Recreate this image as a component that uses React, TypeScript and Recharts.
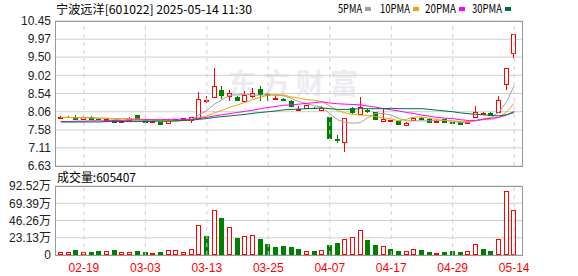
import { ComposedChart, Bar, Line, XAxis, YAxis, CartesianGrid, ReferenceLine } from 'recharts'

const dates = [
  '02-14', '02-17', '02-18', '02-19', '02-20', '02-21', '02-24', '02-25', '02-26', '02-27',
  '02-28', '03-03', '03-04', '03-05', '03-06', '03-07', '03-10', '03-11', '03-12', '03-13',
  '03-14', '03-17', '03-18', '03-19', '03-20', '03-21', '03-24', '03-25', '03-26', '03-27',
  '03-28', '03-31', '04-01', '04-02', '04-03', '04-07', '04-08', '04-09', '04-10', '04-11',
  '04-14', '04-15', '04-16', '04-17', '04-18', '04-21', '04-22', '04-23', '04-24', '04-25',
  '04-28', '04-29', '04-30', '05-06', '05-07', '05-08', '05-09', '05-12', '05-13', '05-14',
]

const open = [
  7.90, 7.91, 7.92, 7.87, 7.92, 7.88, 7.84, 7.84, 7.78, 7.85,
  7.97, 7.84, 7.79, 7.79, 7.76, 7.85, 7.87, 7.84, 7.89, 8.34,
  8.46, 8.64, 8.48, 8.44, 8.33, 8.48, 8.66, 8.52, 8.40, 8.39,
  8.35, 8.11, 8.17, 8.17, 8.10, 7.92, 7.33, 7.26, 8.17, 7.99,
  8.10, 8.04, 7.81, 7.82, 7.81, 7.72, 7.84, 7.89, 7.88, 7.80,
  7.86, 7.78, 7.79, 7.75, 7.91, 8.01, 8.03, 8.06, 8.78, 9.60,
]
const high = [
  7.94, 7.96, 7.98, 7.95, 7.94, 7.90, 7.89, 7.85, 7.83, 7.91,
  7.98, 7.86, 7.82, 7.80, 7.86, 7.88, 7.90, 7.93, 8.58, 8.48,
  9.21, 8.73, 8.62, 8.48, 8.60, 8.68, 8.73, 8.55, 8.51, 8.41,
  8.36, 8.20, 8.25, 8.19, 8.20, 7.93, 7.45, 7.90, 8.19, 8.45,
  8.12, 8.06, 8.13, 7.85, 7.82, 7.78, 7.91, 7.91, 7.89, 7.83,
  7.87, 7.79, 7.80, 7.79, 8.21, 8.04, 8.04, 8.47, 9.20, 10.12,
]
const low = [
  7.89, 7.90, 7.85, 7.86, 7.87, 7.84, 7.83, 7.76, 7.77, 7.82,
  7.87, 7.77, 7.78, 7.71, 7.73, 7.83, 7.86, 7.76, 7.88, 8.29,
  8.42, 8.39, 8.33, 8.35, 8.31, 8.42, 8.33, 8.33, 8.39, 8.35,
  8.20, 8.07, 8.15, 8.13, 8.09, 7.36, 7.23, 6.99, 7.99, 7.98,
  8.03, 7.85, 7.80, 7.80, 7.70, 7.71, 7.83, 7.86, 7.78, 7.78,
  7.78, 7.75, 7.72, 7.74, 7.90, 8.00, 7.96, 8.05, 8.62, 9.48,
]
const close = [
  7.92, 7.93, 7.86, 7.93, 7.88, 7.86, 7.87, 7.78, 7.82, 7.90,
  7.88, 7.78, 7.81, 7.73, 7.84, 7.87, 7.89, 7.92, 8.39, 8.36,
  8.73, 8.49, 8.55, 8.37, 8.51, 8.55, 8.54, 8.51, 8.41, 8.38,
  8.22, 8.12, 8.23, 8.16, 8.17, 7.38, 7.31, 7.89, 8.06, 8.19,
  8.08, 7.86, 7.88, 7.83, 7.74, 7.77, 7.90, 7.88, 7.79, 7.81,
  7.79, 7.77, 7.73, 7.78, 8.05, 8.02, 7.98, 8.36, 9.20, 10.12,
]

// volume in 万 shares
const volume = [
  3.8, 3.8, 6.5, 3.5, 4.0, 5.2, 4.8, 6.6, 3.5, 3.5,
  5.2, 4.0, 2.5, 4.0, 6.2, 6.3, 3.5, 7.5, 40.0, 25.2,
  60.0, 49.8, 37.2, 22.7, 25.2, 26.6, 21.2, 14.4, 10.4, 11.7,
  10.8, 7.7, 5.8, 5.0, 6.1, 13.1, 16.0, 22.1, 24.5, 33.2,
  19.8, 13.1, 12.5, 7.6, 5.0, 4.8, 8.6, 6.3, 3.6, 3.2,
  3.8, 4.9, 3.6, 4.9, 15.3, 7.7, 5.0, 20.8, 85.3, 60.54,
]

const ma5 = [
  7.91, 7.91, 7.90, 7.91, 7.90, 7.89, 7.88, 7.86, 7.84, 7.85,
  7.85, 7.83, 7.84, 7.82, 7.81, 7.81, 7.83, 7.85, 7.98, 8.09,
  8.26, 8.38, 8.50, 8.50, 8.53, 8.49, 8.50, 8.50, 8.50, 8.48,
  8.41, 8.33, 8.27, 8.22, 8.18, 8.01, 7.85, 7.78, 7.76, 7.77,
  7.91, 8.02, 8.01, 7.97, 7.88, 7.82, 7.82, 7.82, 7.82, 7.83,
  7.83, 7.81, 7.78, 7.78, 7.82, 7.87, 7.91, 8.04, 8.32, 8.74,
]
const ma10 = [
  7.91, 7.91, 7.90, 7.90, 7.90, 7.89, 7.89, 7.88, 7.88, 7.88,
  7.87, 7.86, 7.85, 7.83, 7.83, 7.83, 7.83, 7.84, 7.90, 7.95,
  8.03, 8.10, 8.18, 8.24, 8.31, 8.38, 8.44, 8.50, 8.50, 8.50,
  8.45, 8.42, 8.38, 8.36, 8.33, 8.21, 8.09, 8.03, 7.99, 7.97,
  7.96, 7.93, 7.90, 7.87, 7.82, 7.86, 7.92, 7.92, 7.89, 7.85,
  7.83, 7.82, 7.80, 7.80, 7.83, 7.85, 7.86, 7.91, 8.05, 8.28,
]
const ma20 = [
  7.80, 7.80, 7.81, 7.81, 7.82, 7.82, 7.82, 7.83, 7.83, 7.84,
  7.84, 7.85, 7.85, 7.85, 7.86, 7.86, 7.86, 7.86, 7.89, 7.91,
  7.95, 7.98, 8.01, 8.04, 8.07, 8.10, 8.14, 8.17, 8.20, 8.23,
  8.24, 8.26, 8.28, 8.30, 8.32, 8.29, 8.27, 8.26, 8.25, 8.24,
  8.21, 8.18, 8.14, 8.11, 8.08, 8.04, 8.01, 7.97, 7.94, 7.91,
  7.89, 7.88, 7.85, 7.83, 7.83, 7.86, 7.89, 7.91, 7.97, 8.07,
]
const ma30 = [
  7.79, 7.79, 7.79, 7.79, 7.79, 7.79, 7.80, 7.80, 7.80, 7.80,
  7.80, 7.80, 7.81, 7.81, 7.81, 7.82, 7.83, 7.84, 7.86, 7.88,
  7.91, 7.93, 7.95, 7.97, 7.99, 8.02, 8.04, 8.06, 8.08, 8.11,
  8.12, 8.13, 8.14, 8.15, 8.16, 8.14, 8.12, 8.12, 8.13, 8.14,
  8.14, 8.14, 8.14, 8.15, 8.14, 8.14, 8.14, 8.14, 8.12, 8.10,
  8.08, 8.06, 8.03, 8.01, 7.99, 7.98, 7.96, 7.95, 7.98, 8.04,
]

const labelDates = ['02-19', '03-03', '03-13', '03-25', '04-07', '04-17', '04-29', '05-14']
const priceTicks = [6.63, 7.11, 7.58, 8.06, 8.54, 9.02, 9.5, 9.97, 10.45]
const volTicks = [0, 23.13, 46.26, 69.39, 92.52]

const RED = '#ff0000'
const GREEN = '#008000'
const maLines = [
  { key: 'ma5', label: '5PMA', color: '#a0a0a0' },
  { key: 'ma10', label: '10PMA', color: '#f0a30a' },
  { key: 'ma20', label: '20PMA', color: '#ff00ff' },
  { key: 'ma30', label: '30PMA', color: '#00703a' },
]

const data = dates.map((date, i) => ({
  date,
  open: open[i],
  high: high[i],
  low: low[i],
  close: close[i],
  vol: volume[i],
  volUp: i === 0 ? close[i] >= open[i] : close[i] >= close[i - 1],
  ma5: ma5[i],
  ma10: ma10[i],
  ma20: ma20[i],
  ma30: ma30[i],
}))

const W = 578
const LEFT = 55
const RIGHT = 56
const xPad = { left: 2, right: 4 }
const tickFont = { fontSize: 12, fontFamily: "'Liberation Sans', 'Noto Sans CJK SC', sans-serif", fill: '#222' }
const GRID = '#cfcfcf'

function Candle(props: any) {
  const { x, y, width, height, payload } = props
  if (x == null || y == null || !payload) return null
  const top = Math.min(y, y + height)
  const bottom = Math.max(y, y + height)
  const span = payload.high - payload.low
  const toY = (p: number) => (span > 0 ? top + ((payload.high - p) / span) * (bottom - top) : top)
  const up = payload.close >= payload.open
  const color = up ? RED : GREEN
  const cx = Math.floor(x + width / 2) + 0.5
  const bTop = Math.round(toY(Math.max(payload.open, payload.close))) + 0.5
  const bBot = Math.round(toY(Math.min(payload.open, payload.close))) + 0.5
  return (
    <g shapeRendering="crispEdges">
      <line x1={cx} x2={cx} y1={toY(payload.high)} y2={bTop} stroke={color} />
      <line x1={cx} x2={cx} y1={bBot} y2={toY(payload.low)} stroke={color} />
      {bBot - bTop < 1 ? (
        <line x1={cx - 2.5} x2={cx + 2.5} y1={bTop} y2={bTop} stroke={color} />
      ) : (
        <rect x={cx - 2} y={bTop} width={4} height={bBot - bTop} fill={up ? '#fff' : color} stroke={color} />
      )}
    </g>
  )
}

function VolBar(props: any) {
  const { x, y, width, height, payload } = props
  if (x == null || y == null || !payload) return null
  const color = payload.volUp ? RED : GREEN
  const cx = Math.floor(x + width / 2) + 0.5
  const top = Math.round(y) + 0.5
  const bottom = Math.round(y + height) - 0.5
  return (
    <rect
      x={cx - 2}
      y={top}
      width={4}
      height={Math.max(bottom - top, 0)}
      fill={payload.volUp ? '#fff' : color}
      stroke={color}
      shapeRendering="crispEdges"
    />
  )
}

export default function App() {
  return (
    <div style={{ position: 'absolute', left: 0, top: 0, width: W, height: 276, background: '#fff', overflow: 'hidden' }}>
      {/* faint watermark */}
      <div
        style={{
          position: 'absolute', left: 228, top: 62, fontSize: 28, fontWeight: 700, letterSpacing: 6,
          color: '#ececf0', fontFamily: "'Noto Sans CJK SC', sans-serif", whiteSpace: 'nowrap',
        }}
      >
        东方财富
      </div>

      <div style={{ position: 'absolute', left: 0, top: 0 }}>
        <ComposedChart width={W} height={176} data={data} margin={{ top: 21, right: RIGHT, bottom: 10, left: 0 }}>
          <CartesianGrid vertical={false} stroke={GRID} />
          {labelDates.map((d) => (
            <ReferenceLine key={d} x={d} stroke={GRID} strokeDasharray="4 4" />
          ))}
          <XAxis dataKey="date" hide padding={xPad} />
          <YAxis
            width={LEFT}
            domain={[6.63, 10.45]}
            ticks={priceTicks}
            interval={0}
            axisLine={false}
            tickLine={false}
            tickSize={0}
            tickMargin={4}
            tick={tickFont}
            tickFormatter={(v: number) => v.toFixed(2)}
          />
          <Bar dataKey={(d: any) => [d.low, d.high]} barSize={5} shape={Candle} isAnimationActive={false} />
          {maLines.map((m) => (
            <Line
              key={m.key}
              type="linear"
              dataKey={m.key}
              stroke={m.color}
              strokeWidth={1}
              dot={false}
              activeDot={false}
              isAnimationActive={false}
            />
          ))}
        </ComposedChart>
      </div>

      <div style={{ position: 'absolute', left: 0, top: 176 }}>
        <ComposedChart width={W} height={100} data={data} margin={{ top: 10, right: RIGHT, bottom: 0, left: 0 }}>
          <CartesianGrid vertical={false} stroke={GRID} />
          {labelDates.map((d) => (
            <ReferenceLine key={d} x={d} stroke={GRID} strokeDasharray="4 4" />
          ))}
          <XAxis
            dataKey="date"
            height={21}
            padding={xPad}
            interval={0}
            axisLine={false}
            tickLine={false}
            tickSize={0}
            tickMargin={8}
            tick={{ ...tickFont, fill: RED }}
            tickFormatter={(v: string) => (labelDates.includes(v) ? v : '')}
          />
          <YAxis
            width={LEFT}
            domain={[0, 92.52]}
            ticks={volTicks}
            interval={0}
            axisLine={false}
            tickLine={false}
            tickSize={0}
            tickMargin={4}
            tick={tickFont}
            tickFormatter={(v: number) => (v === 0 ? '0' : v.toFixed(2) + '万')}
          />
          <Bar dataKey="vol" barSize={5} shape={VolBar} isAnimationActive={false} />
        </ComposedChart>
      </div>

      {/* panel frames */}
      <div style={{ position: 'absolute', left: LEFT, top: 21, width: W - LEFT - RIGHT + 1, height: 146, border: '1px solid #999', boxSizing: 'border-box', pointerEvents: 'none' }} />
      <div style={{ position: 'absolute', left: LEFT, top: 186, width: W - LEFT - RIGHT + 1, height: 70, border: '1px solid #999', boxSizing: 'border-box', pointerEvents: 'none' }} />

      <svg width={W} height={276} style={{ position: 'absolute', left: 0, top: 0, pointerEvents: 'none' }}>
        <g fontFamily="'Noto Sans CJK SC', sans-serif" fontSize={12} fill="#000">
          <text x={56} y={14} textLength={196} lengthAdjust="spacingAndGlyphs">宁波远洋[601022] 2025-05-14 11:30</text>
          <text x={57} y={182} textLength={79} lengthAdjust="spacingAndGlyphs">成交量:605407</text>
          {maLines.map((m, i) => {
            const lx = [338, 380, 425, 472][i]
            const sx = [365, 413, 459, 505][i]
            return (
              <g key={m.key}>
                <text x={lx} y={13} textLength={sx - lx - 3} lengthAdjust="spacingAndGlyphs">{m.label}</text>
                <rect x={sx} y={7} width={6} height={4} fill={m.color} />
              </g>
            )
          })}
        </g>
      </svg>
    </div>
  )
}
